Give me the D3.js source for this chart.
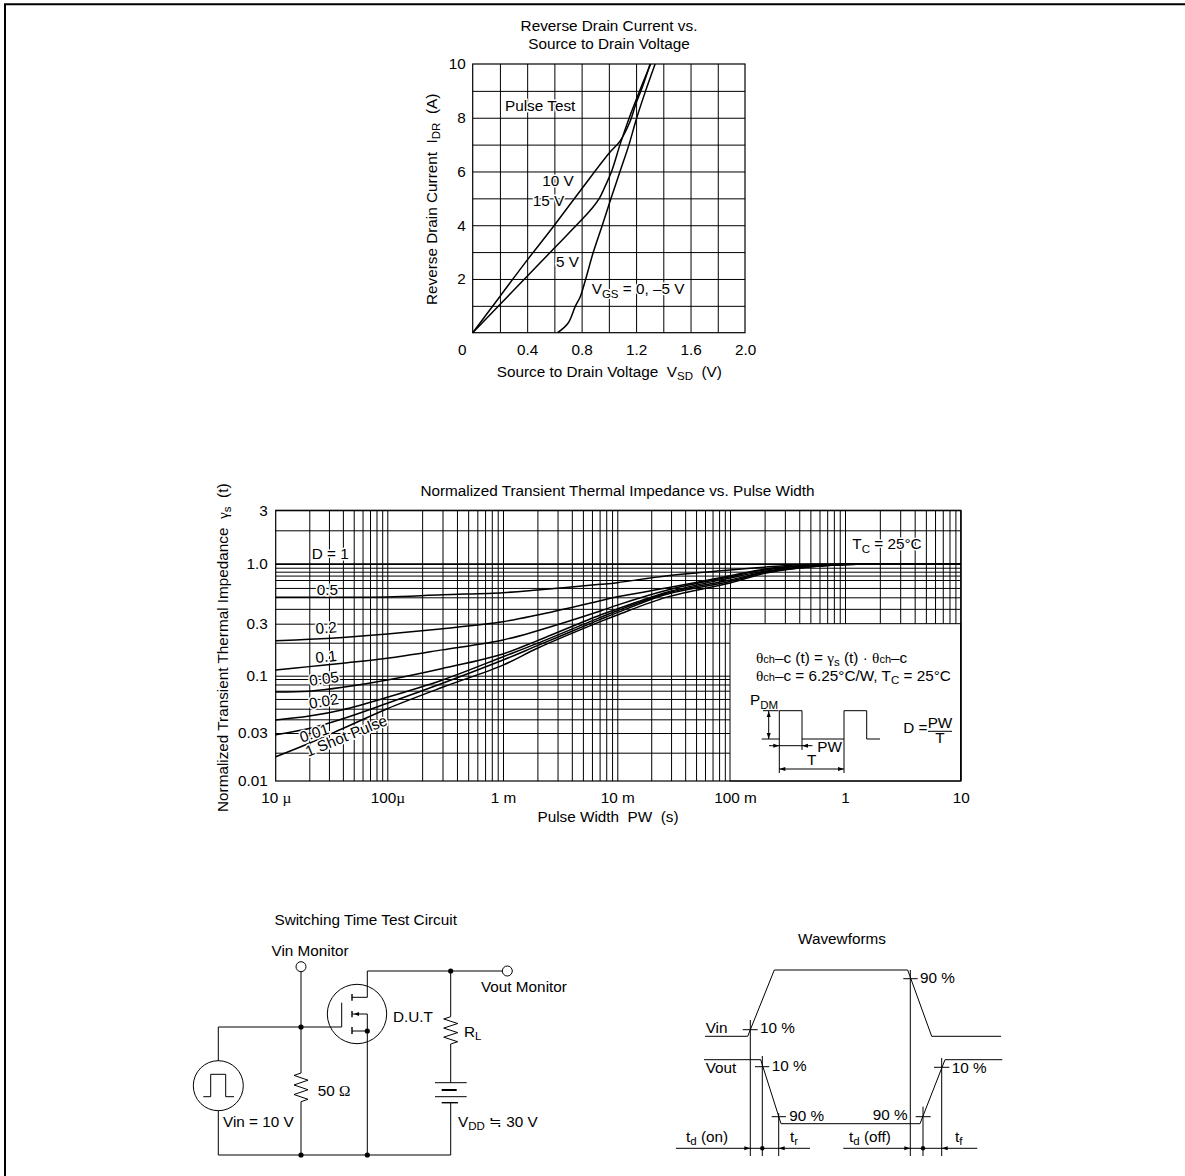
<!DOCTYPE html>
<html>
<head>
<meta charset="utf-8">
<style>
  html, body { margin: 0; padding: 0; background: #fff; }
  svg { display: block; }
  text { font-family: "Liberation Sans", Arial, sans-serif; font-size: 15.3px; fill: #000; }
  .grid path { display: none; }
  .grid line { stroke: #000; stroke-width: 1; }
  .labels path { display: none; }
  .labels text { font-family: "Liberation Sans", Arial, sans-serif; font-size: 15.3px; fill: #000; }
</style>
<script src="https://cdn.jsdelivr.net/npm/d3@7"></script>
</head>
<body>
<script>
// reverse drain current chart
const vsdTicks = [0, 0.4, 0.8, 1.2, 1.6, 2.0]
const vsdGrid = [0.2, 0.4, 0.6, 0.8, 1.0, 1.2, 1.4, 1.6, 1.8]
const idrTicks = [2, 4, 6, 8, 10]
const idrGrid = [1, 2, 3, 4, 5, 6, 7, 8, 9]

const vsd10V = [0, 0.2, 0.4, 0.6, 0.8, 1.0, 1.082, 1.155, 1.2, 1.249, 1.303]
const idr10V = [0, 1.35, 2.7, 4.0, 5.35, 6.67, 7.13, 7.85, 8.54, 9.18, 10]
const vsd15V = [0, 0.2, 0.4, 0.6, 0.8, 0.88, 0.93, 0.977, 1.02, 1.082, 1.15, 1.2, 1.253, 1.307]
const idr15V = [0, 1.05, 2.1, 3.15, 4.2, 4.65, 5.0, 5.5, 6, 7, 8, 8.66, 9.34, 10]
const vsd0V = [0.624, 0.70, 0.755, 0.79, 0.83, 0.886, 0.952, 1.016, 1.082, 1.148, 1.205, 1.27, 1.34]
const idr0V = [0, 0.35, 1, 1.34, 2, 3, 4, 5, 6, 7, 8, 9, 10]

// thermal impedance chart
const pwDecades = [1e-5, 1e-4, 1e-3, 1e-2, 1e-1, 1, 10]
const pwTickLabels = ['10 µ', '100µ', '1 m', '10 m', '100 m', '1', '10']
const gammaTicks = [0.01, 0.03, 0.1, 0.3, 1, 3]
const gammaTickLabels = ['0.01', '0.03', '0.1', '0.3', '1.0', '3']
const gammaGrid = [0.02, 0.03, 0.04, 0.05, 0.06, 0.07, 0.08, 0.09, 0.1, 0.2, 0.3, 0.4, 0.5, 0.6, 0.7, 0.8, 0.9, 0.95, 1, 2, 3]

const pw = [1e-5, 2e-5, 4e-5, 1e-4, 3e-4, 1e-3, 2e-3, 7.1e-3, 1e-2, 2.8e-2, 0.1, 0.2, 0.4, 1, 2, 10]
const dutyOne = [1, 1, 1, 1, 1, 1, 1, 1, 1, 1, 1, 1, 1, 1, 1, 1]
const duty05 = [0.5, 0.5, 0.5, 0.503, 0.525, 0.547, 0.576, 0.643, 0.665, 0.798, 0.921, 0.958, 0.99, 1, 1, 1]
const duty02 = [0.209, 0.215, 0.224, 0.241, 0.27, 0.312, 0.355, 0.468, 0.505, 0.601, 0.798, 0.933, 0.975, 0.995, 1, 1]
const duty01 = [0.1126, 0.121, 0.13, 0.144, 0.172, 0.212, 0.258, 0.383, 0.43, 0.576, 0.772, 0.921, 0.97, 0.995, 1, 1]
const duty005 = [0.0683, 0.0694, 0.0753, 0.0881, 0.1165, 0.158, 0.209, 0.355, 0.399, 0.554, 0.743, 0.906, 0.958, 0.992, 1, 1]
const duty002 = [0.0394, 0.0428, 0.049, 0.0619, 0.0881, 0.149, 0.197, 0.339, 0.386, 0.543, 0.7, 0.895, 0.953, 0.992, 1, 1]
const duty001 = [0.029, 0.033, 0.0405, 0.0553, 0.0821, 0.139, 0.188, 0.326, 0.372, 0.533, 0.68, 0.88, 0.947, 0.992, 1, 1]
const oneShot = [0.0181, 0.0243, 0.033, 0.05, 0.0753, 0.125, 0.178, 0.312, 0.355, 0.504, 0.66, 0.857, 0.947, 0.992, 1, 1]
const dutySeries = [dutyOne, duty05, duty02, duty01, duty005, duty002, duty001, oneShot]

const svg = d3.select('body').append('svg').attr('width', 1185).attr('height', 1176)

// page rule, top and left only
svg.append('path')
  .attr('d', 'M5,1176V4.3H1185')
  .attr('fill', 'none').attr('stroke', '#000').attr('stroke-width', 2)

// text with optional sub / serif runs: plain strings or {t, sub, serif, small}
function label(x, y, parts, opts = {}) {
  const el = svg.append('text').attr('x', x).attr('y', y)
  if (opts.anchor) el.attr('text-anchor', opts.anchor)
  if (opts.rotate) el.attr('transform', `rotate(${opts.rotate} ${x} ${y})`)
  if (opts.halo) el.style('paint-order', 'stroke').style('stroke', '#fff').style('stroke-width', 3)
  let shift = 0
  ;[].concat(parts).forEach(p => {
    const part = typeof p === 'string' ? { t: p } : p
    const span = el.append('tspan').text(part.t).style('white-space', 'pre')
    const want = part.sub ? 3.5 : 0
    if (want !== shift) { span.attr('dy', want - shift); shift = want }
    if (part.sub) span.style('font-size', '11.5px')
    if (part.small) span.style('font-size', '11px')
    if (part.serif) span.style('font-family', '"Liberation Serif", serif')
  })
  return el
}

function polyline(points, width = 1) {
  svg.append('path')
    .attr('d', d3.line()(points))
    .attr('fill', 'none').attr('stroke', '#000').attr('stroke-width', width)
}

// filled arrow head with its tip at x,y
function arrow(x, y, dir, len = 6) {
  const pts = {
    right: [[x, y], [x - len, y - 2], [x - len, y + 2]],
    left: [[x, y], [x + len, y - 2], [x + len, y + 2]],
    up: [[x, y], [x - 2, y + len], [x + 2, y + len]],
    down: [[x, y], [x - 2, y - len], [x + 2, y - len]]
  }[dir]
  svg.append('path').attr('d', d3.line()(pts) + 'Z').attr('fill', '#000')
}

function dot(x, y, r = 2.6) {
  svg.append('circle').attr('cx', x).attr('cy', y).attr('r', r).attr('fill', '#000')
}

function ring(x, y, r) {
  svg.append('circle').attr('cx', x).attr('cy', y).attr('r', r)
    .attr('fill', 'none').attr('stroke', '#000').attr('stroke-width', 1)
}

// ---------- top chart
const x1 = d3.scaleLinear().domain([0, 2]).range([472.7, 745])
const y1 = d3.scaleLinear().domain([0, 10]).range([332.7, 64])

svg.append('g').attr('class', 'grid').attr('transform', `translate(0,${y1(0)})`)
  .call(d3.axisBottom(x1).tickValues(vsdGrid).tickSize(y1(10) - y1(0)).tickFormat(''))
svg.append('g').attr('class', 'grid').attr('transform', `translate(${x1(0)},0)`)
  .call(d3.axisLeft(y1).tickValues(idrGrid).tickSize(x1(0) - x1(2)).tickFormat(''))
svg.append('rect')
  .attr('x', x1(0)).attr('y', y1(10)).attr('width', x1(2) - x1(0)).attr('height', y1(0) - y1(10))
  .attr('fill', 'none').attr('stroke', '#000').attr('stroke-width', 1.2)

const xLabels1 = svg.append('g').attr('class', 'labels').attr('transform', `translate(0,${y1(0)})`)
  .call(d3.axisBottom(x1).tickValues(vsdTicks).tickSize(0).tickPadding(11.4).tickFormat(d3.format('.1f')))
xLabels1.selectAll('text').filter(d => d === 0).text('0').attr('dx', -11)
svg.append('g').attr('class', 'labels').attr('transform', `translate(${x1(0)},0)`)
  .call(d3.axisLeft(y1).tickValues(idrTicks).tickSize(0).tickPadding(7).tickFormat(d3.format('d')))

const line1 = d3.line().x(d => x1(d[0])).y(d => y1(d[1])).curve(d3.curveCatmullRom.alpha(0.5))
;[[vsd10V, idr10V], [vsd15V, idr15V], [vsd0V, idr0V]].forEach(([xs, ys]) => {
  svg.append('path')
    .attr('d', line1(xs.map((v, i) => [v, ys[i]])))
    .attr('fill', 'none').attr('stroke', '#000').attr('stroke-width', 1.5)
})

label(609, 30.7, 'Reverse Drain Current vs.', { anchor: 'middle' })
label(609, 49.3, 'Source to Drain Voltage', { anchor: 'middle' })
label(505, 110.7, 'Pulse Test', { halo: true })
label(542.3, 186, '10 V', { halo: true })
label(532.7, 206, '15 V', { halo: true })
label(556, 266.7, '5 V', { halo: true })
label(591.7, 294, ['V', { t: 'GS', sub: true }, ' = 0, –5 V'], { halo: true })
label(496.7, 376.7, ['Source to Drain Voltage  V', { t: 'SD', sub: true }, '  (V)'])
label(436.7, 305, ['Reverse Drain Current  I', { t: 'DR', sub: true }, '  (A)'], { rotate: -90 })

// ---------- thermal impedance chart
const x2 = d3.scaleLog().domain(pwDecades).range([275.7, 387.3, 503, 617.3, 730, 845, 960.7])
const y2 = d3.scaleLog()
  .domain([0.01, 0.02, 0.03, 0.05, 0.07, 0.09, 0.1, 0.2, 0.3, 0.5, 0.7, 0.9, 1, 2, 3])
  .range([781, 752.7, 733, 708.7, 690.7, 679, 675.7, 642.7, 623.7, 597.3, 580, 571.7, 564, 530.3, 510.3])

const pwGrid = pwDecades.slice(0, -1).flatMap(d => d3.range(1, 10).map(k => k * d)).slice(1).concat([10])
svg.append('g').attr('class', 'grid').attr('transform', `translate(0,${y2(0.01)})`)
  .call(d3.axisBottom(x2).tickValues(pwGrid).tickSize(y2(3) - y2(0.01)).tickFormat(''))
svg.append('g').attr('class', 'grid').attr('transform', `translate(${x2(1e-5)},0)`)
  .call(d3.axisLeft(y2).tickValues(gammaGrid).tickSize(x2(1e-5) - x2(10)).tickFormat(''))

// inset panel covers the grid at the lower right
svg.append('rect')
  .attr('x', x2(0.1)).attr('y', y2(0.3)).attr('width', x2(10) - x2(0.1)).attr('height', y2(0.01) - y2(0.3))
  .attr('fill', '#fff').attr('stroke', '#000')
svg.append('rect')
  .attr('x', x2(1e-5)).attr('y', y2(3)).attr('width', x2(10) - x2(1e-5)).attr('height', y2(0.01) - y2(3))
  .attr('fill', 'none').attr('stroke', '#000').attr('stroke-width', 1.2)

const xLabels2 = svg.append('g').attr('class', 'labels').attr('transform', `translate(0,${y2(0.01)})`)
  .call(d3.axisBottom(x2).tickValues(pwDecades).tickSize(0).tickPadding(10.8)
    .tickFormat((d, i) => pwTickLabels[i]))
xLabels2.selectAll('text').each(function (d, i) {
  const s = pwTickLabels[i]
  const el = d3.select(this)
  if (s.includes('µ')) {
    el.text(s.replace('µ', ''))
    el.append('tspan').text('µ').style('font-family', '"Liberation Serif", serif')
  }
  if (s === '100 m') el.attr('dx', 5)
})
svg.append('g').attr('class', 'labels').attr('transform', `translate(${x2(1e-5)},0)`)
  .call(d3.axisLeft(y2).tickValues(gammaTicks).tickSize(0).tickPadding(8)
    .tickFormat((d, i) => gammaTickLabels[i]))

const line2 = d3.line().x(d => x2(d[0])).y(d => y2(d[1])).curve(d3.curveCatmullRom.alpha(0.5))
dutySeries.forEach(vals => {
  svg.append('path')
    .attr('d', line2(pw.map((v, i) => [v, vals[i]])))
    .attr('fill', 'none').attr('stroke', '#000').attr('stroke-width', 1.5)
})

label(617.5, 496, 'Normalized Transient Thermal Impedance vs. Pulse Width', { anchor: 'middle' })
label(608, 822, 'Pulse Width  PW  (s)', { anchor: 'middle' })
label(227.7, 812, ['Normalized Transient Thermal Impedance  ', { t: 'γ', serif: true }, { t: 's', sub: true }, '  (t)'], { rotate: -90 })
label(852.3, 549.3, ['T', { t: 'C', sub: true }, ' = 25°C'], { halo: true })
label(311.7, 558.7, 'D = 1', { halo: true })
label(316.7, 594.7, '0.5', { halo: true })
label(316, 634, '0.2', { rotate: -5, halo: true })
label(316, 663, '0.1', { rotate: -6, halo: true })
label(310, 686, '0.05', { rotate: -8, halo: true })
label(310, 709, '0.02', { rotate: -10, halo: true })
label(301.7, 742.7, '0.01', { rotate: -18, halo: true })
label(308, 757, '1 Shot Pulse', { rotate: -22, halo: true })

// inset formula and pulse sketch
label(756, 662.7, [{ t: 'θ', serif: true }, { t: 'ch', small: true }, '–c (t) = ', { t: 'γ', serif: true }, { t: 's', sub: true }, ' (t) · ', { t: 'θ', serif: true }, { t: 'ch', small: true }, '–c'])
label(756, 680.7, [{ t: 'θ', serif: true }, { t: 'ch', small: true }, '–c = 6.25°C/W, T', { t: 'C', sub: true }, ' = 25°C'])
label(750, 705, ['P', { t: 'DM', sub: true }])
polyline([[761.7, 739], [779.3, 739], [779.3, 710.7], [802, 710.7], [802, 739], [844, 739], [844, 710.7], [866.7, 710.7], [866.7, 739], [880, 739]])
polyline([[763, 710.7], [778.5, 710.7]])
polyline([[768.7, 711], [768.7, 739]])
arrow(768.7, 711, 'up')
arrow(768.7, 739, 'down')
polyline([[779.3, 739], [779.3, 773]])
polyline([[802, 739], [802, 750]])
polyline([[844, 739], [844, 773]])
polyline([[769, 745.7], [812.5, 745.7]])
arrow(779.3, 745.7, 'right')
arrow(802, 745.7, 'left')
polyline([[779.3, 769], [844, 769]])
arrow(779.3, 769, 'left')
arrow(844, 769, 'right')
label(817.3, 751.7, 'PW')
label(811.7, 765, 'T', { anchor: 'middle' })
label(903.3, 733.3, 'D =')
label(940, 728.3, 'PW', { anchor: 'middle' })
polyline([[928, 731.3], [952, 731.3]])
label(940, 743.3, 'T', { anchor: 'middle' })

// ---------- switching test circuit
label(365.7, 925, 'Switching Time Test Circuit', { anchor: 'middle' })
label(310, 956, 'Vin Monitor', { anchor: 'middle' })
label(481, 991.7, 'Vout Monitor')
label(393, 1021.7, 'D.U.T')
label(464, 1036.7, ['R', { t: 'L', sub: true }])
label(317.7, 1095.7, ['50 ', { t: 'Ω', serif: true }])
label(223, 1126.7, 'Vin = 10 V')
label(458, 1126.7, ['V', { t: 'DD', sub: true }, ' ≒ 30 V'])

const zigzag = (x, y0, y1) => {
  const n = 6
  const step = (y1 - y0) / n
  return [[x, y0]].concat(d3.range(n).map(i => [x + (i % 2 ? 7 : -7), y0 + step * (i + 0.5)]), [[x, y1]])
}

polyline([[301, 972], [301, 1073]])
polyline(zigzag(301, 1073, 1101.7))
polyline([[301, 1101.7], [301, 1155]])
polyline([[218.3, 1061], [218.3, 1027], [341.7, 1027], [341.7, 1002.7]])
polyline([[218.3, 1110.7], [218.3, 1155], [450.7, 1155], [450.7, 1102.7]])
polyline([[367.3, 1155], [367.3, 1014], [352, 1014]])
polyline([[352, 1031], [367.3, 1031]])
polyline([[352, 997.3], [367.3, 997.3], [367.3, 971], [502, 971]])
polyline([[450.7, 971], [450.7, 1016.7]])
polyline(zigzag(450.7, 1016.7, 1044))
polyline([[450.7, 1044], [450.7, 1082.7]])
polyline([[435, 1082.7], [466.7, 1082.7]])
polyline([[441.7, 1090], [456.7, 1090]], 2)
polyline([[435, 1096.7], [466.7, 1096.7]])
polyline([[441.7, 1102.7], [458, 1102.7]], 1.4)
ring(301, 966.7, 5)
ring(507.3, 971, 5)
ring(218.3, 1085.7, 25)
ring(357, 1014, 29.7)
polyline([[203.3, 1096.7], [210.7, 1096.7], [210.7, 1074.3], [225.7, 1074.3], [225.7, 1096.7], [234, 1096.7]])
;[[994, 1000.7], [1011, 1017.3], [1027, 1034]].forEach(([a, b]) => polyline([[352, a], [352, b]], 1.4))
arrow(354, 1014, 'left', 5)
;[[301, 1027], [301, 1155], [367.3, 1155], [367.3, 1031], [450.7, 971]].forEach(p => dot(p[0], p[1]))

// ---------- waveforms
label(842, 944, 'Wavewforms', { anchor: 'middle' })
polyline([[705, 1036.3], [747.7, 1036.3], [774.3, 970], [907.7, 970], [931.7, 1036.3], [1001, 1036.3]])
polyline([[704, 1059.7], [760.7, 1059.7], [781, 1123.7], [920, 1123.7], [945, 1059.7], [1002.3, 1059.7]])
;[[750.3, 1020], [762.3, 1056], [778.7, 1113], [910.3, 970], [923, 1106.7], [941.7, 1058]].forEach(([x, y]) => polyline([[x, y], [x, 1156]]))
;[[742.7, 1029.7, 757.7], [755, 1066.7, 769.3], [771.7, 1116.7, 786], [903.3, 978.7, 917.7], [915.7, 1116.7, 930.7], [934, 1067.3, 949.3]].forEach(([a, y, b]) => polyline([[a, y], [b, y]]))
polyline([[676, 1148.3], [810, 1148.3]])
polyline([[843.3, 1148.3], [977.3, 1148.3]])
arrow(750.3, 1148.3, 'right')
arrow(778.7, 1148.3, 'left')
arrow(910.3, 1148.3, 'right')
arrow(941.7, 1148.3, 'left')
dot(762.3, 1148.3, 2.2)
dot(923, 1148.3, 2.2)
label(705.7, 1032.7, 'Vin')
label(760, 1033.3, '10 %')
label(705.7, 1072.7, 'Vout')
label(771.7, 1070.7, '10 %')
label(920, 983.3, '90 %')
label(789.3, 1120.7, '90 %')
label(872.7, 1120, '90 %')
label(951.7, 1072.7, '10 %')
label(686, 1141.7, ['t', { t: 'd', sub: true }, ' (on)'])
label(790, 1141.7, ['t', { t: 'r', sub: true }])
label(849, 1141.7, ['t', { t: 'd', sub: true }, ' (off)'])
label(955, 1141.7, ['t', { t: 'f', sub: true }])
</script>
</body>
</html>
